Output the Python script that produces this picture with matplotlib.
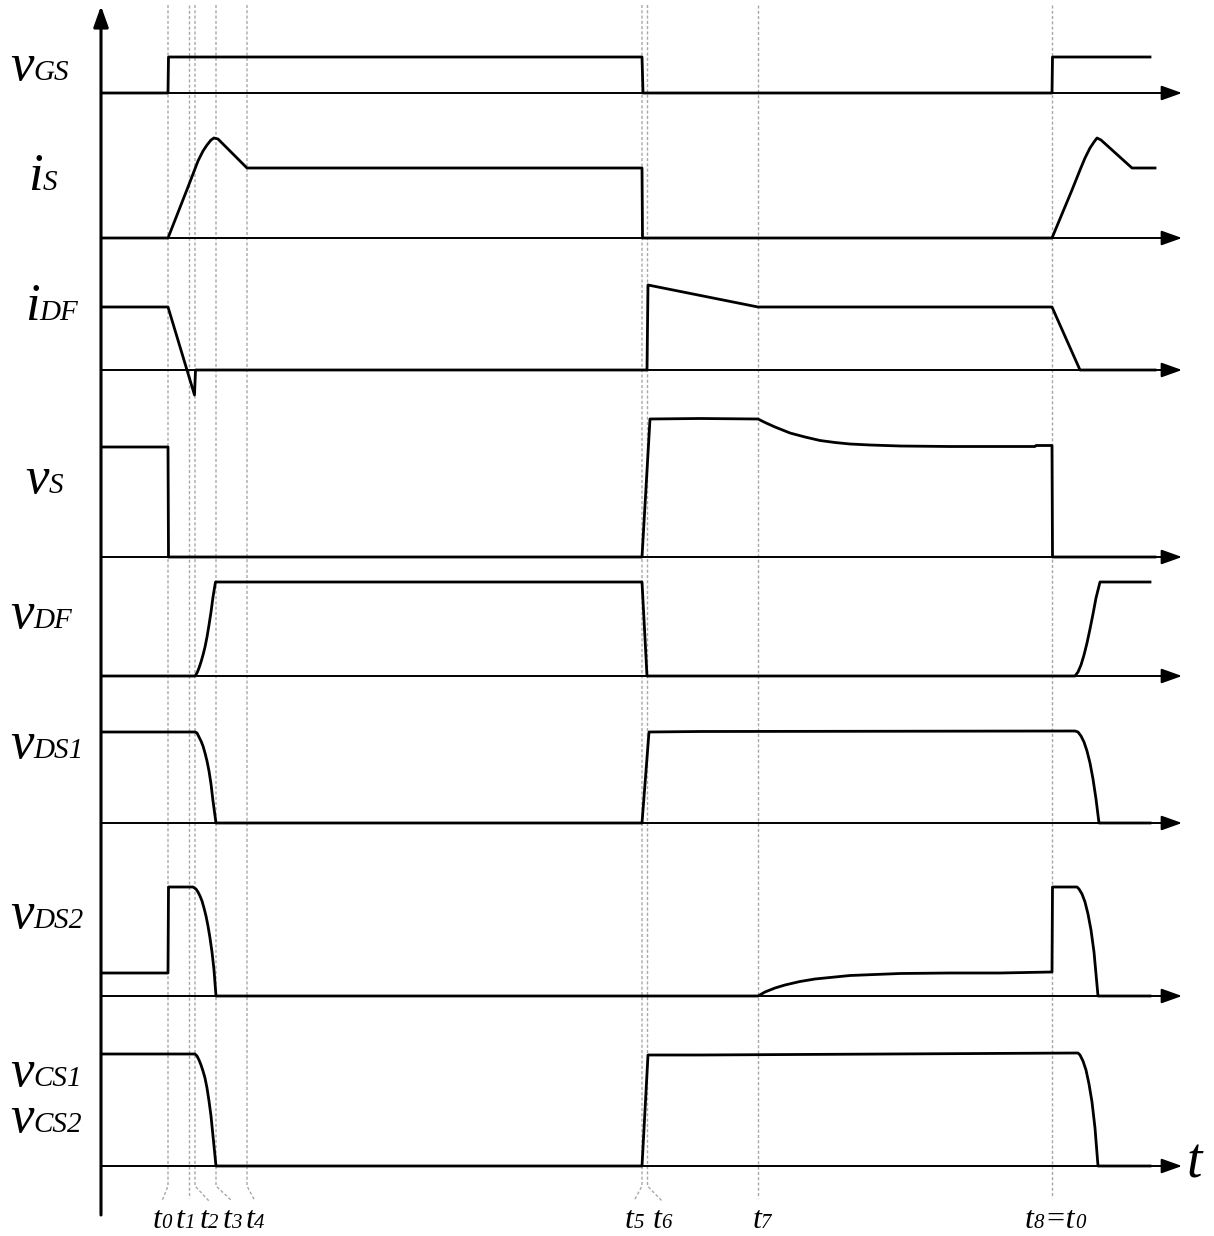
import numpy as np
import matplotlib
matplotlib.use('Agg')
import matplotlib.pyplot as plt

# switching instants t0..t8 (horizontal axis units)
t_marks = [168, 188.5, 195, 216, 247, 642, 647.5, 758, 1052]
t_names = [[('t', 23), ('0', 15)], [('t', 23), ('1', 15)], [('t', 23), ('2', 15)],
           [('t', 23), ('3', 15)], [('t', 23), ('4', 15)], [('t', 23), ('5', 15)],
           [('t', 23), ('6', 15)], [('t', 23), ('7', 15)],
           [('t', 23), ('8', 15), ('=t', 23), ('0', 15)]]
t_label_x = [162, 185, 209, 232, 255, 634, 662, 762, 1055]

# channel names and baselines (top to bottom)
chan_names = [('v', 'GS'), ('i', 'S'), ('i', 'DF'), ('v', 'S'), ('v', 'DF'),
              ('v', 'DS1'), ('v', 'DS2'), ('v', 'CS1'), ('v', 'CS2')]
chan_label_pos = [(10, 80), (28, 190), (25, 320), (25, 493), (10, 628),
                  (10, 758), (10, 928), (10, 1086), (10, 1132)]
baselines = [93, 238, 370, 557, 676, 823, 996, 1166]

# waveforms: time, height above own baseline
vgs_t = [102, 168, 168.5, 642, 643, 1052, 1052.5, 1150]
vgs_h = [0, 0, 36, 36, 0, 0, 36, 36]

is_t = [102, 168, 188, 193, 198, 203, 207, 211, 214, 218, 247, 642, 642.5,
        1052, 1072, 1080, 1085, 1090, 1094, 1097, 1101, 1132, 1155]
is_h = [0, 0, 51, 64, 77, 87, 93, 98, 100, 99, 70, 70, 0,
        0, 48, 68, 80, 90, 96, 100, 98, 70, 70]

idf_t = [102, 168, 194.5, 195.5, 647, 648, 758, 1052, 1080, 1155]
idf_h = [63, 63, -25, 0, 0, 85, 63, 63, 0, 0]

vs_t = [102, 168, 168.5, 642, 650, 700, 758, 765, 775, 790, 805, 820, 835, 850, 870, 900, 950, 1035, 1036,
        1052, 1052.5, 1155]
vs_h = [110, 110, 0, 0, 138, 138.5, 138, 134.5, 130, 124, 120, 116.5, 114.5, 113, 112, 111, 110.5, 110.5,
        111.5, 111.5, 0, 0]

vdf_t = [102, 195, 197, 199, 201, 203, 205, 207, 209, 211, 213, 215.5, 642, 647,
         1075, 1078, 1081, 1084, 1087, 1090, 1093, 1096, 1100, 1150]
vdf_h = [0, 0, 3, 8, 14, 21, 29, 39, 51, 64, 79, 94, 94, 0,
         0, 4, 11, 21, 33, 47, 62, 78, 94, 94]

vds1_t = [102, 195, 197, 199, 201, 203, 205, 207, 209, 211, 213, 216, 642, 649, 700,
          1075, 1078, 1081, 1084, 1087, 1090, 1093, 1096, 1099, 1150]
vds1_h = [91, 91, 90, 86, 82, 77, 70, 62, 52, 39, 22, 0, 0, 91, 91.5,
          92, 91, 87, 81, 72, 60, 44, 24, 0, 0]

vds2_t = [102, 168, 168.5, 193, 196, 198, 200, 202, 204, 206, 208, 210, 212, 214, 216,
          758, 765, 775, 785, 800, 815, 830, 850, 875, 900, 950, 1000, 1052,
          1052.5, 1077, 1079, 1082, 1085, 1088, 1091, 1094, 1098, 1150]
vds2_h = [23, 23, 109, 109, 107, 104, 100, 95, 88, 80, 70, 58, 44, 26, 0,
          0, 4, 8, 11, 14.5, 17, 18.5, 20.5, 21.5, 22.5, 23, 23, 24,
          109, 109, 107, 102, 94, 82, 66, 44, 0, 0]

vcs_t = [102, 195, 197, 199, 201, 203, 205, 207, 209, 211, 213, 216, 642, 648, 700,
         1078, 1080, 1083, 1086, 1089, 1092, 1095, 1098, 1150]
vcs_h = [112, 112, 110, 106, 101, 95, 88, 78, 65, 50, 30, 0, 0, 111, 111,
         113, 111, 105, 96, 82, 64, 38, 0, 0]

waves = [(vgs_t, vgs_h), (is_t, is_h), (idf_t, idf_h), (vs_t, vs_h),
         (vdf_t, vdf_h), (vds1_t, vds1_h), (vds2_t, vds2_h), (vcs_t, vcs_h)]

serif = 'Liberation Serif'

fig = plt.figure(figsize=(12.14, 12.36), dpi=100)
ax = fig.add_axes([0, 0, 1, 1])
ax.set_xlim(0, 1214)
ax.set_ylim(1236, 0)
ax.axis('off')
renderer = fig.canvas.get_renderer()


def put_pieces(x, y, pieces, ha='left'):
    # lay out main letter + subscript pieces on one baseline
    arts = [ax.text(0, y, s, fontsize=size, family=serif, style='italic', va='baseline', ha='left')
            for s, size in pieces]
    widths = [a.get_window_extent(renderer).width for a in arts]
    x0 = x - sum(widths) / 2 if ha == 'center' else x
    for a, w in zip(arts, widths):
        a.set_x(x0)
        x0 += w


# dashed guide lines
grey = '#a8a8a8'
for tm, tx in zip(t_marks, t_label_x):
    if abs(tx - tm) > 4:
        ax.plot([tm, tm, tx], [5, 1186, 1201], color=grey, lw=1.0, ls=(0, (2.2, 1.6)), zorder=1)
    else:
        ax.plot([tm, tm], [5, 1198], color=grey, lw=1.0, ls=(0, (2.2, 1.6)), zorder=1)

# vertical axis
ax.annotate('', xy=(101, 6), xytext=(101, 1215),
            arrowprops=dict(arrowstyle='-|>,head_length=0.7,head_width=0.25', lw=2.2,
                            color='k', mutation_scale=18, shrinkA=0, shrinkB=0), zorder=3)

# horizontal axes
for yb in baselines:
    ax.annotate('', xy=(1182, yb), xytext=(101, yb),
                arrowprops=dict(arrowstyle='-|>,head_length=0.7,head_width=0.25', lw=1.4,
                                color='k', mutation_scale=18, shrinkA=0, shrinkB=0), zorder=2)

# waveforms
for yb, (tt, hh) in zip(baselines, waves):
    ax.plot(tt, yb - np.array(hh), color='k', lw=2.0, solid_joinstyle='round', zorder=4)

# channel labels
for (m, sub), (lx, ly) in zip(chan_names, chan_label_pos):
    put_pieces(lx, ly, [(m, 38), (sub, 21)])

# time labels
for tx, pieces in zip(t_label_x, t_names):
    put_pieces(tx, 1228, pieces, ha='center')

ax.text(1187, 1178, 't', fontsize=40, family=serif, style='italic', va='baseline')

fig.savefig('out.png', dpi=100)
